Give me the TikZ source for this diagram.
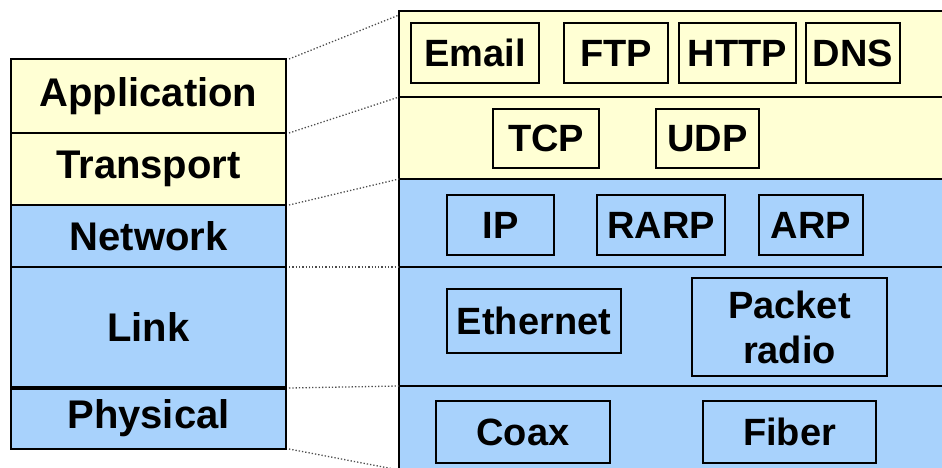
\documentclass[tikz,border=0pt]{standalone}
\usepackage{fontspec}
\setmainfont{Liberation Sans}
\definecolor{lyellow}{HTML}{FFFFD4}
\definecolor{lblue}{HTML}{A8D2FC}
\begin{document}
\begin{tikzpicture}[x=1pt,y=-1pt,
  layerL/.style={draw, line width=2.8pt, inner sep=0pt, outer sep=0pt, minimum width=275pt,
     font=\fontsize{40}{44}\selectfont\bfseries},
  layerR/.style={draw, line width=1.6pt, inner sep=0pt, outer sep=0pt, minimum width=560pt},
  proto/.style={draw, line width=1.6pt, inner sep=0pt, outer sep=0pt, align=center,
     font=\fontsize{38}{45}\selectfont\bfseries},
  conn/.style={gray!60!black, line width=1.3pt, dotted}]
\useasboundingbox (0,0) rectangle (942,468);
% right panel layers
\node[layerR, fill=lyellow, minimum height=86pt, anchor=north west] (rapp) at (399,11) {};
\node[layerR, fill=lyellow, minimum height=82pt, anchor=north west] (rtrans) at (399,97) {};
\node[layerR, fill=lblue, minimum height=88pt, anchor=north west] (rnet) at (399,179) {};
\node[layerR, fill=lblue, minimum height=119pt, anchor=north west] (rlink) at (399,267) {};
\node[layerR, fill=lblue, minimum height=84pt, anchor=north west] (rphys) at (399,386) {};
% protocol boxes
\node[proto, minimum width=128pt, minimum height=60pt] (email) at (475,53) {Email};
\node[proto, minimum width=104pt, minimum height=60pt] (ftp) at (616,53) {FTP};
\node[proto, minimum width=117pt, minimum height=60pt] (http) at (737.5,53) {HTTP};
\node[proto, minimum width=94pt, minimum height=60pt] (dns) at (853,53) {DNS};
\node[proto, minimum width=106pt, minimum height=59pt] (tcp) at (546,138.5) {TCP};
\node[proto, minimum width=103pt, minimum height=59pt] (udp) at (707.5,138.5) {UDP};
\node[proto, minimum width=107pt, minimum height=60pt] (ip) at (500.5,225) {IP};
\node[proto, minimum width=128pt, minimum height=60pt] (rarp) at (661,225) {RARP};
\node[proto, minimum width=104pt, minimum height=60pt] (arp) at (811,225) {ARP};
\node[proto, minimum width=174pt, minimum height=64pt] (eth) at (534,321) {Ethernet};
\node[proto, minimum width=195pt, minimum height=98pt] (pkt) at (789.5,327) {Packet\\radio};
\node[proto, minimum width=174pt, minimum height=62pt] (coax) at (523,432) {Coax};
\node[proto, minimum width=173pt, minimum height=62pt] (fiber) at (789.5,432) {Fiber};
% left stack
\node[layerL, fill=lyellow, minimum height=74pt, anchor=north west] (app) at (11,59) {Application};
\node[layerL, fill=lyellow, minimum height=72pt, anchor=north west] (trans) at (11,133) {Transport};
\node[layerL, fill=lblue, minimum height=62pt, anchor=north west] (net) at (11,205) {Network};
\node[layerL, fill=lblue, minimum height=121pt, anchor=north west] (link) at (11,267) {Link};
\node[layerL, fill=lblue, minimum height=61pt, anchor=north west] (phys) at (11,388) {Physical};
\draw[line width=4.5pt] (phys.north west) -- (phys.north east);
% dotted connectors
\draw[conn] ([xshift=3pt]app.north east) -- ([yshift=-4pt]rapp.north west);
\draw[conn] ([xshift=3pt]trans.north east) -- (rtrans.north west);
\draw[conn] ([xshift=3pt]net.north east) -- (rnet.north west);
\draw[conn] ([xshift=3pt]link.north east) -- (rlink.north west);
\draw[conn] ([xshift=3pt]phys.north east) -- (rphys.north west);
\draw[conn] ([xshift=3pt]phys.south east) -- (rphys.south west);
\end{tikzpicture}
\end{document}
